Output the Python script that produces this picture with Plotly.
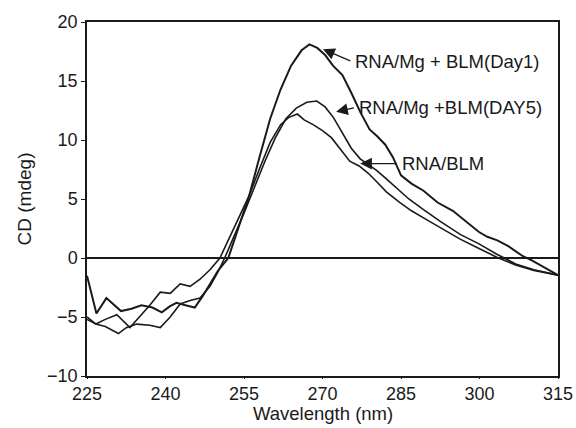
import plotly.graph_objects as go

# ---- data ----
day1_x = [225, 226.8, 228.7, 231.5, 233.5, 235.4, 237.5, 239.3, 240.8, 242.1, 243.8, 245.6, 247, 248.5, 250,
          252, 254, 256, 258, 260, 262, 264, 266, 267.5, 269, 270.5, 272, 273.8, 275.5, 277.3, 279, 280.5,
          282, 283.5, 285, 287, 289.3, 292, 294.9, 297.5, 299.9, 301.5, 303.4, 305.5, 308.3, 310, 312.5, 315]
day1_y = [-1.5, -4.7, -3.4, -4.5, -4.3, -4.0, -4.2, -4.6, -4.1, -3.8, -4.0, -4.2, -3.3, -2.2, -1.1,
          0, 2.6, 5.3, 8.6, 11.8, 14.3, 16.3, 17.6, 18.1, 17.8, 17.2, 16.3, 15.5, 14.0, 12.3, 10.9, 10.3,
          9.6, 8.5, 7.0, 6.3, 5.7, 4.7, 4.0, 3.1, 2.2, 1.8, 1.5, 1.0, 0.15, -0.2, -0.8, -1.45]

day5_x = [225, 226.7, 228.5, 231, 232.5, 234.5, 237, 239, 240.9, 242.8, 244.7, 246.6, 248.5, 250, 251.3,
          253, 255, 257, 259, 261, 263, 265, 267, 268.9, 270.5, 272.1, 274, 275.5, 277.2, 278.7, 280.4,
          282.2, 284.5, 286.5, 289.3, 292.5, 296.3, 299.9, 303.4, 306.9, 310.4, 315]
day5_y = [-5.2, -5.6, -5.8, -6.4, -5.9, -5.6, -5.7, -5.9, -5.0, -3.9, -3.6, -3.4, -2.4, -1.2, 0,
          1.7, 3.8, 6.0, 8.2, 10.2, 11.8, 12.7, 13.2, 13.3, 12.8, 11.9, 10.4, 9.3, 8.4, 7.9, 7.4,
          6.7, 5.8, 5.0, 4.1, 3.1, 2.0, 1.2, 0.3, -0.5, -1.0, -1.45]

blm_x = [225, 226.7, 228.5, 230.7, 233.2, 235, 237, 239, 240.9, 242.8, 244.7, 246.6, 248.5, 250.4, 252,
         254, 256, 258, 260, 262, 263.5, 265.2, 266.5, 268.2, 270, 271.7, 273.5, 275.2, 277, 278.7, 280.5,
         282.2, 284.8, 287, 289.3, 292.5, 296.3, 299.9, 303.4, 306.9, 310.4, 315]
blm_y = [-5.0, -5.6, -5.2, -4.8, -5.9, -5.0, -4.0, -2.9, -3.0, -2.2, -2.4, -1.8, -1.0, 0, 1.5,
         3.3, 5.3, 7.6, 9.8, 11.3, 11.9, 12.2, 11.7, 11.3, 10.8, 10.2, 9.2, 8.2, 7.8, 7.2, 6.4,
         5.6, 4.7, 4.0, 3.4, 2.6, 1.6, 0.8, 0.05, -0.6, -1.05, -1.45]

x_ticks = [225, 240, 255, 270, 285, 300, 315]
y_ticks = [-10, -5, 0, 5, 10, 15, 20]

x_title = "Wavelength (nm)"
y_title = "CD (mdeg)"

labels = ["RNA/Mg + BLM(Day1)", "RNA/Mg +BLM(DAY5)", "RNA/BLM"]
# (arrow tip x, y, text x, y)
label_pos = [(270.1, 17.7, 275.9, 16.65),
             (272.6, 12.4, 276.6, 12.75),
             (277.2, 8.0, 284.8, 8.0)]

FONT = "Liberation Sans, Arial, sans-serif"
INK = "#1a1a1a"

fig = go.Figure()
for xs, ys, name, w in [(day1_x, day1_y, labels[0], 2.0),
                        (day5_x, day5_y, labels[1], 1.6),
                        (blm_x, blm_y, labels[2], 1.6)]:
    fig.add_trace(go.Scatter(x=xs, y=ys, mode="lines", name=name,
                             line=dict(color=INK, width=w), showlegend=False))

for (tx, ty, lx, ly), text in zip(label_pos, labels):
    fig.add_annotation(x=tx, y=ty, ax=lx - 0.3, ay=ly, xref="x", yref="y", axref="x", ayref="y",
                       text="", showarrow=True, arrowhead=2, arrowsize=1.8, arrowwidth=1.3,
                       arrowcolor=INK)
    fig.add_annotation(x=lx, y=ly, xref="x", yref="y", text=text, showarrow=False,
                       xanchor="left", yanchor="middle",
                       font=dict(family=FONT, size=18.5, color=INK))

# x-axis title placed just under the tick labels, as in the reference
fig.add_annotation(x=0.5, y=-0.106, xref="paper", yref="paper", text=x_title,
                   showarrow=False, xanchor="center", yanchor="middle",
                   font=dict(family=FONT, size=18.5, color=INK))

fig.update_layout(
    width=576, height=428,
    margin=dict(l=87, r=18, t=22, b=52),
    paper_bgcolor="white", plot_bgcolor="white",
    font=dict(family=FONT, size=18, color=INK),
    xaxis=dict(range=[225, 315], tickvals=x_ticks, ticks="outside", ticklen=1,
               tickcolor=INK, showline=True, linecolor=INK, linewidth=1.5,
               tickfont=dict(size=18), automargin=False,
               mirror=True, showgrid=False, zeroline=False),
    yaxis=dict(range=[-10, 20], tickvals=y_ticks, ticks="outside", ticklen=4,
               tickcolor=INK, showline=True, linecolor=INK, linewidth=1.5,
               tickfont=dict(size=18), automargin=False,
               mirror=True, showgrid=False, zeroline=True, zerolinecolor=INK,
               zerolinewidth=1.5,
               title=dict(text=y_title, standoff=10, font=dict(size=19))),
)

fig.write_html("out.html")
